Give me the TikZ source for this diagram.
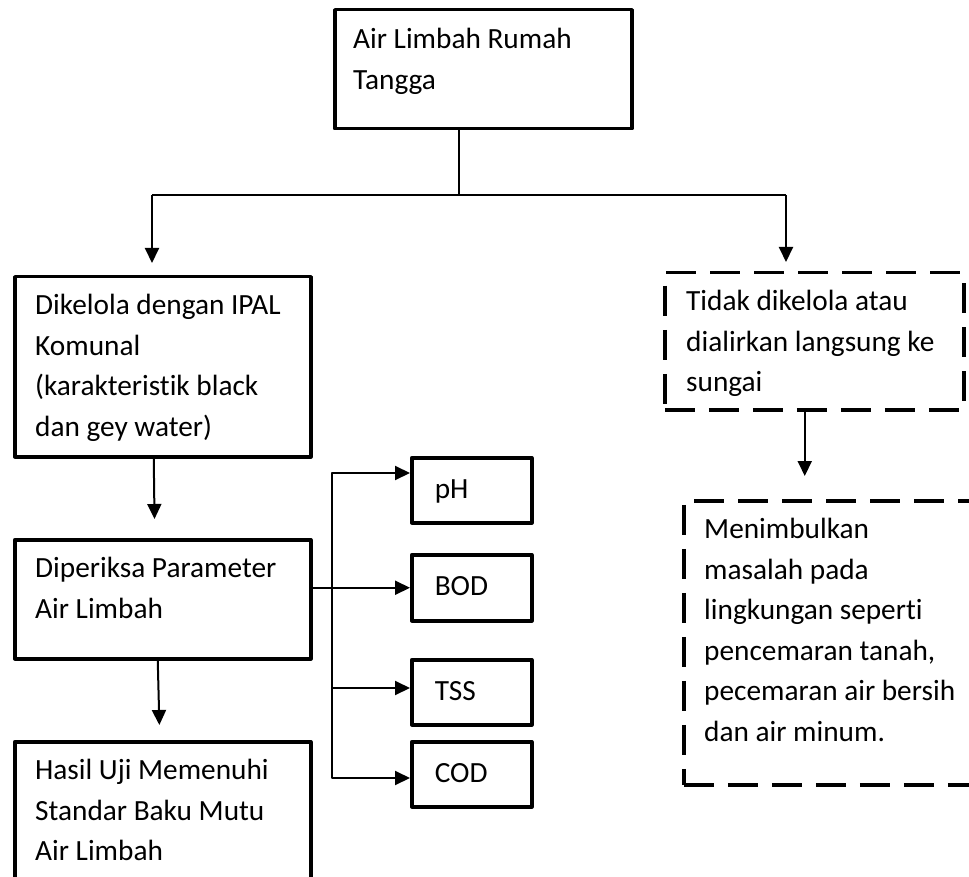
\documentclass[tikz,border=0pt]{standalone}
\usepackage{fontspec}
\setmainfont{Carlito}[Ligatures=NoCommon]
\usetikzlibrary{arrows.meta}

\begin{document}
\begin{tikzpicture}[x=1pt,y=-1pt,>={Triangle[length=15pt,width=14pt]},line join=round,
    box/.style={draw,line width=3.5pt,anchor=north west,inner sep=0pt},
    dbox/.style={box,dash pattern=on 30pt off 14pt,line join=miter},
    pbox/.style={box,minimum width=120pt,minimum height=65pt,text width=74pt,align=left,font=\fontsize{29.3}{40}\selectfont},
    txt/.style={anchor=north west,align=left,inner sep=0pt,font=\fontsize{29.3}{40.5}\selectfont},
    conn/.style={line width=2pt}]
            \useasboundingbox (0,0) rectangle (969,877);
            \clip (0,0) rectangle (969,877);
            \node[box,minimum width=297pt,minimum height=119pt] (root) at (333,8) {};
            \node[box,minimum width=296pt,minimum height=180pt] (dik) at (13,275) {};
            \node[box,minimum width=296pt,minimum height=119pt] (dip) at (13,538) {};
            \node[box,minimum width=296pt,minimum height=160pt] (hasil) at (13,740) {};
            \node[dbox,minimum width=299pt,minimum height=137pt] (tidak) at (663,271) {};
            \node[dbox,minimum width=318pt,minimum height=284pt] (menim) at (682,499) {};
            \node[pbox] (ph) at (410,456) {\strut pH};
            \node[pbox,minimum height=66pt] (bod) at (410,553) {\strut BOD};
            \node[pbox] (tss) at (410,658) {\strut TSS};
            \node[pbox] (cod) at (410,740) {\strut COD};

            \node[txt] (roott) at ([xshift=20pt,yshift=-12pt]root.north west) {\strut Air Limbah Rumah\\Tangga};
            \node[txt] (dikt) at ([xshift=22pt,yshift=-11pt]dik.north west) {\strut Dikelola dengan IPAL\\Komunal\\(karakteristik black\\dan gey water)};
            \node[txt] (dipt) at ([xshift=22pt,yshift=-11pt]dip.north west) {\strut Diperiksa Parameter\\Air Limbah};
            \node[txt] (hasilt) at ([xshift=22pt,yshift=-11pt]hasil.north west) {\strut Hasil Uji Memenuhi\\Standar Baku Mutu\\Air Limbah};
            \node[txt] (tidakt) at ([xshift=23pt,yshift=-11pt]tidak.north west) {\strut Tidak dikelola atau\\dialirkan langsung ke\\sungai};
            \node[txt] (menimt) at ([xshift=22pt,yshift=-11pt]menim.north west) {\strut Menimbulkan\\masalah pada\\lingkungan seperti\\pencemaran tanah,\\pecemaran air bersih\\dan air minum.};

            \coordinate (split) at (459,195);
            \coordinate (lft) at (152,195);
            \coordinate (rgt) at (786,195);
            \draw[conn] (split |- root.south) -- (split);
            \draw[conn] (lft) -- (rgt);
            \draw[conn,->,shorten >=12pt] (lft) -- (lft |- dik.north);
            \draw[conn,->,shorten >=9pt] (rgt) -- (rgt |- tidak.north);
            \draw[conn,->,shorten >=19pt] ([xshift=-9pt]dik.south) -- ([xshift=-8pt]dip.north);
            \draw[conn,->,shorten >=15pt] ([xshift=-5pt]dip.south) -- ([xshift=-3pt]hasil.north);

            \coordinate (tr1) at (332,473);
            \coordinate (tr2) at (332,778);
            \coordinate (tr3) at (332,688);
            \draw[conn,->] (bod.west -| dip.east) -- (bod.west);
            \draw[conn,<->] (tr1 -| ph.west) -- (tr1) -- (tr2) -- (tr2 -| cod.west);
            \draw[conn,->] (tr3) -- (tr3 -| tss.west);

            \coordinate (dn) at ([xshift=-9.5pt]tidak.south);
            \draw[conn,->,shorten >=23pt] (dn) -- (dn |- menim.north);
        \end{tikzpicture}
\end{document}
